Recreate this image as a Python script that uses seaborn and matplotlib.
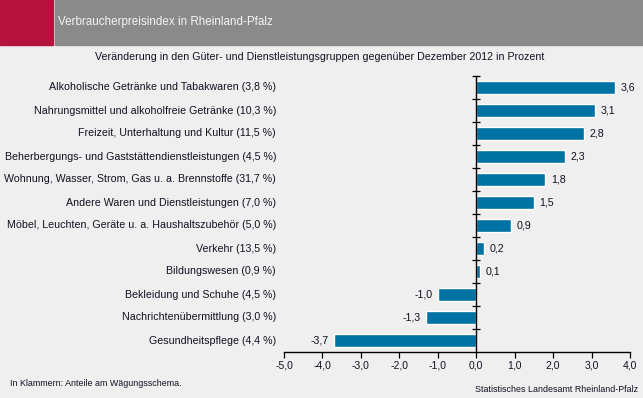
import matplotlib
matplotlib.use("Agg")
import matplotlib.pyplot as plt
import seaborn as sns
import pandas as pd
from matplotlib.patches import Rectangle

categories = [
    "Alkoholische Getränke und Tabakwaren (3,8 %)",
    "Nahrungsmittel und alkoholfreie Getränke (10,3 %)",
    "Freizeit, Unterhaltung und Kultur (11,5 %)",
    "Beherbergungs- und Gaststättendienstleistungen (4,5 %)",
    "Wohnung, Wasser, Strom, Gas u. a. Brennstoffe (31,7 %)",
    "Andere Waren und Dienstleistungen (7,0 %)",
    "Möbel, Leuchten, Geräte u. a. Haushaltszubehör (5,0 %)",
    "Verkehr (13,5 %)",
    "Bildungswesen (0,9 %)",
    "Bekleidung und Schuhe (4,5 %)",
    "Nachrichtenübermittlung (3,0 %)",
    "Gesundheitspflege (4,4 %)",
]
values = [3.6, 3.1, 2.8, 2.3, 1.8, 1.5, 0.9, 0.2, 0.1, -1.0, -1.3, -3.7]
xticks = [-5, -4, -3, -2, -1, 0, 1, 2, 3, 4]

title = "Verbraucherpreisindex in Rheinland-Pfalz"
subtitle = "Veränderung in den Güter- und Dienstleistungsgruppen gegenüber Dezember 2012 in Prozent"
note = "In Klammern: Anteile am Wägungsschema."
source = "Statistisches Landesamt Rheinland-Pfalz"

bg = "#eeefee"
bar_color = "#0072a3"
text_color = "#111122"

sns.set_theme(style="white")
plt.rcParams["font.family"] = ["Liberation Sans", "DejaVu Sans"]

df = pd.DataFrame({"cat": categories, "val": values})

W, H = 643, 398
fig = plt.figure(figsize=(W / 100, H / 100), dpi=100, facecolor=bg)
ax = fig.add_axes([284 / W, 1 - 352 / H, (630 - 284) / W, (352 - 76) / H])
ax.set_facecolor(bg)

sns.barplot(data=df, x="val", y="cat", orient="h", color=bar_color,
            width=0.57, saturation=1, ax=ax)

n = len(categories)
ax.set_xlim(-5, 4)
ax.set_ylim(n - 0.5, -0.5)
ax.set_xticks(xticks)
ax.set_xticklabels([f"{t:.1f}".replace(".", ",") for t in xticks],
                   fontsize=7.5, color=text_color)
ax.tick_params(axis="x", direction="out", length=4, width=0.9, color="black",
               pad=2, bottom=True)

# y axis drawn at x = 0 with ticks at category boundaries
for s in ["top", "right"]:
    ax.spines[s].set_visible(False)
ax.spines["left"].set_position(("data", 0))
ax.spines["left"].set_color("black")
ax.spines["left"].set_linewidth(1.0)
ax.spines["bottom"].set_color("black")
ax.spines["bottom"].set_linewidth(1.0)
ax.set_yticks(range(n))
ax.set_yticklabels([])
ax.tick_params(axis="y", which="major", length=0)
ax.set_yticks([i - 0.5 for i in range(n)], minor=True)
ax.tick_params(axis="y", which="minor", direction="inout", length=6,
               width=0.9, color="black", left=True)
ax.set_xlabel("")
ax.set_ylabel("")

for i, c in enumerate(categories):
    ax.text(-0.023, i, c, transform=ax.get_yaxis_transform(), ha="right",
            va="center", fontsize=7.65, color=text_color)

ax.bar_label(ax.containers[0],
             labels=[f"{v:.1f}".replace(".", ",") for v in values],
             padding=4, fontsize=7.7, color=text_color)

# header
fig.patches.append(Rectangle((0, 1 - 45 / H), 53 / W, 45 / H,
                             transform=fig.transFigure, color="#b5123e",
                             zorder=0))
fig.patches.append(Rectangle((55 / W, 1 - 45 / H), 1 - 55 / W, 45 / H,
                             transform=fig.transFigure, color="#8a8a8b",
                             zorder=0))
fig.text(58 / W, 1 - 22 / H, title, ha="left", va="center", fontsize=8.4,
         color="#f4f4f4")
fig.text(320 / W, 1 - 57 / H, subtitle, ha="center", va="center",
         fontsize=7.7, color=text_color)
fig.text(10 / W, 1 - 384 / H, note, ha="left", va="center", fontsize=6.4,
         color=text_color)
fig.text(638 / W, 1 - 389 / H, source, ha="right", va="center", fontsize=6.4,
         color=text_color)

fig.savefig("out.png", dpi=100, facecolor=bg)
